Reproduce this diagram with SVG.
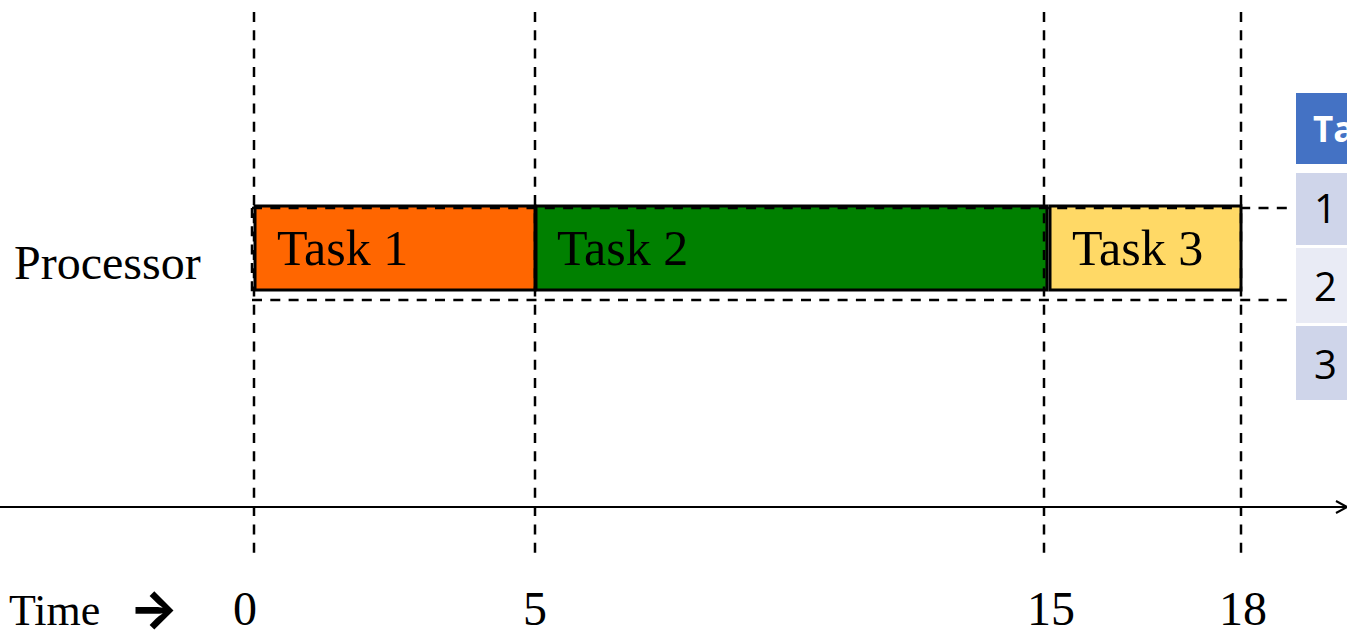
<svg xmlns="http://www.w3.org/2000/svg" width="1347" height="631" viewBox="0 0 1347 631">
  <style>
    .guide { stroke: #000; stroke-width: 2.5; stroke-dasharray: 10 8.3; fill: none; }
    .task { stroke: #000; stroke-width: 3; }
    .serif { font-family: "Liberation Serif", "Times New Roman", serif; font-size: 48px; fill: #000; }
    .bar { font-size: 50px; }
    .cell { font-family: "Open Sans", "Liberation Sans", sans-serif; font-size: 40px; fill: #000; }
    .head { font-family: "Open Sans", "Liberation Sans", sans-serif; font-size: 35px; font-weight: bold; fill: #fff; }
  </style>
  <defs>
    <marker id="open-arrow" markerWidth="14" markerHeight="14" refX="12" refY="7" orient="auto" markerUnits="userSpaceOnUse">
      <path d="M1,1 L12,7 L1,13" fill="none" stroke="#000" stroke-width="2"/>
    </marker>
  </defs>

  <rect width="1347" height="631" fill="#fff"/>

  <!-- task bars on the processor row -->
  <g id="task1">
    <rect class="task" x="255" y="206" width="280" height="84" fill="#FF6600"/>
    <text class="serif bar" x="277" y="265">Task 1</text>
  </g>
  <g id="task2">
    <rect class="task" x="536" y="206" width="511" height="84" fill="#008000"/>
    <text class="serif bar" x="557" y="265">Task 2</text>
  </g>
  <g id="task3">
    <rect class="task" x="1050" y="206" width="191" height="84" fill="#FFD966"/>
    <text class="serif bar" x="1072" y="265">Task 3</text>
  </g>

  <!-- dashed time guides and row bounds -->
  <g id="connectors">
    <line class="guide" x1="254" y1="12" x2="254" y2="555"/>
    <line class="guide" x1="535" y1="12" x2="535" y2="555"/>
    <line class="guide" x1="1044" y1="12" x2="1044" y2="555"/>
    <line class="guide" x1="1241" y1="12" x2="1241" y2="555"/>
    <line class="guide" x1="252" y1="208" x2="1290" y2="208"/>
    <line class="guide" x1="252" y1="300" x2="1290" y2="300"/>
    <line class="guide" x1="252" y1="208" x2="252" y2="292"/>
    <!-- time axis -->
    <line x1="0" y1="507" x2="1347" y2="507" stroke="#000" stroke-width="2" marker-end="url(#open-arrow)"/>
  </g>

  <g id="processor-label">
    <text class="serif" x="14" y="279">Processor</text>
  </g>

  <g id="time-labels">
    <text class="serif" x="9" y="625" style="font-size:44px">Time</text>
    <text x="129" y="627" font-family="Inter, sans-serif" font-weight="800" font-size="52">→</text>
    <text class="serif" x="245" y="625" text-anchor="middle">0</text>
    <text class="serif" x="535" y="625" text-anchor="middle">5</text>
    <text class="serif" x="1051" y="625" text-anchor="middle">15</text>
    <text class="serif" x="1243" y="625" text-anchor="middle">18</text>
  </g>

  <!-- task table (clipped at the right edge) -->
  <g id="task-table">
    <rect x="1296" y="93" width="60" height="71" fill="#4472C4"/>
    <text class="head" x="1313" y="142">Task</text>
    <rect x="1296" y="173" width="60" height="72" fill="#CFD5EA"/>
    <text class="cell" x="1314" y="223">1</text>
    <rect x="1296" y="248" width="60" height="75" fill="#E9EBF5"/>
    <text class="cell" x="1314" y="301">2</text>
    <rect x="1296" y="326" width="60" height="74" fill="#CFD5EA"/>
    <text class="cell" x="1314" y="379">3</text>
  </g>
</svg>
